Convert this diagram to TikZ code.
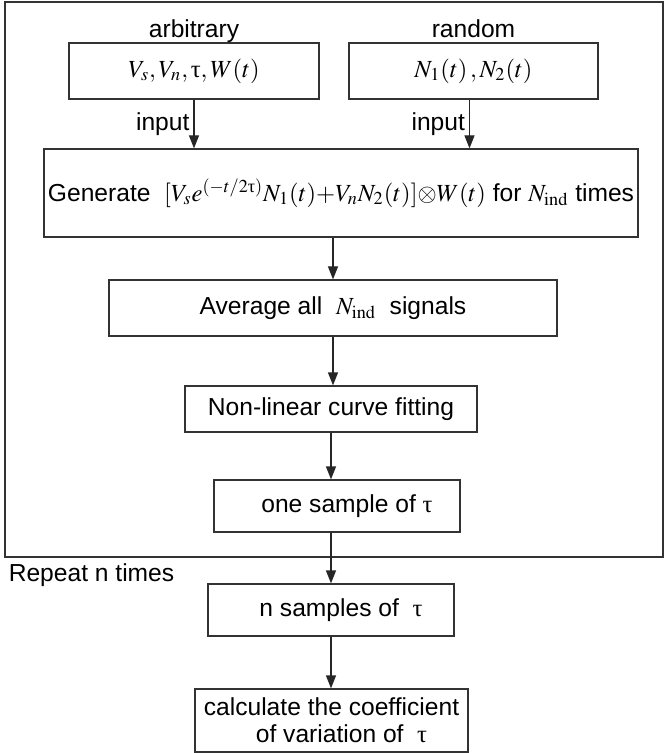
\documentclass[tikz,border=0pt]{standalone}
\usepackage{amsmath}
\usepackage{mathptmx}
\usepackage[no-math]{fontspec}
\setmainfont{Liberation Sans}
\newfontfamily\grkfont{Liberation Serif}
\usepackage{tikz}
\usetikzlibrary{positioning,arrows.meta}
\newcommand{\ttau}{\text{\grkfont τ}}

\begin{document}
\begin{tikzpicture}[x=1pt, y=1pt,
    % Style definitions
    box/.style={rectangle, draw=black!80, line width=0.6pt, align=center, inner sep=2pt, font=\fontsize{12.3}{15}\selectfont},
    inbox/.style={box, minimum width=125pt, minimum height=28pt},
    stepbox/.style={box, minimum height=26pt},
    frame/.style={rectangle, draw=black!80, line width=0.6pt, minimum width=329pt, minimum height=277.5pt},
    arrow/.style={-{Triangle[length=6.5pt,width=5pt]}, line width=0.6pt, draw=black!85},
    lbl/.style={font=\fontsize{12.3}{15}\selectfont, inner sep=2pt},
    head/.style={lbl, text height=9pt, text depth=2.6pt}
]
\useasboundingbox (0,0) rectangle (332,-376.5);

% Repeat loop frame
\node[frame] (loop) at (167,-139.75) {};

% Inputs
\node[inbox] (arb) at (97,-35.5) {$V_s, V_n, \ttau, W(t)$};
\node[inbox, minimum width=124.5pt] (rnd) at (236.75,-35.5) {$N_1(t)\,, N_2(t)$};
\node[head, above=-2.5pt of arb] (arblbl) {arbitrary};
\node[head, above=-2.5pt of rnd] (rndlbl) {random};

% Generation
\node[box, minimum width=296pt, minimum height=44pt] (gen) at (170.5,-96.5) {Generate \ $[V_s e^{(-t/2\ttau)} N_1(t){+}V_n N_2(t)]{\otimes}W(t)$ for $N_{\mathrm{ind}}$ times};

% Processing steps
\node[stepbox, minimum width=224pt, minimum height=28pt] (avg) at (166.5,-154) {Average all \ $N_{\mathrm{ind}}$ \ signals};
\node[stepbox, minimum width=146pt, minimum height=23pt] (fit) at (165.5,-204.5) {Non-linear curve fitting};
\node[stepbox, minimum width=123pt] (one) at (168.5,-253) {\hspace*{10pt}one sample of $\ttau$};

% Outside the loop
\node[lbl, anchor=north west] (rep) at ([yshift=-1pt]loop.south west) {Repeat n times};
\node[stepbox, minimum width=123pt] (samp) at (165.5,-305) {\hspace*{10pt}n samples of \ $\ttau$};
\node[stepbox, minimum width=136.5pt, minimum height=31.5pt, font=\fontsize{12.3}{13.5}\selectfont] (calc) at (165.75,-360.25) {calculate the coefficient\\ \hspace*{10pt}of variation of \ $\ttau$};

% Connections
\draw[arrow] (arb.south) -- node[lbl, left] {input} (arb.south |- gen.north);
\draw[arrow] ([xshift=-2pt]rnd.south) -- node[lbl, left] {input} ([xshift=-2pt]rnd.south |- gen.north);
\draw[arrow] (avg.north |- gen.south) -- (avg.north);
\draw[arrow] (avg.south) -- (avg.south |- fit.north);
\draw[arrow] (fit.south) -- (fit.south |- one.north);
\draw[arrow] (samp.north |- one.south) -- (samp.north);
\draw[arrow] (samp.south) -- (samp.south |- calc.north);

\end{tikzpicture}
\end{document}
